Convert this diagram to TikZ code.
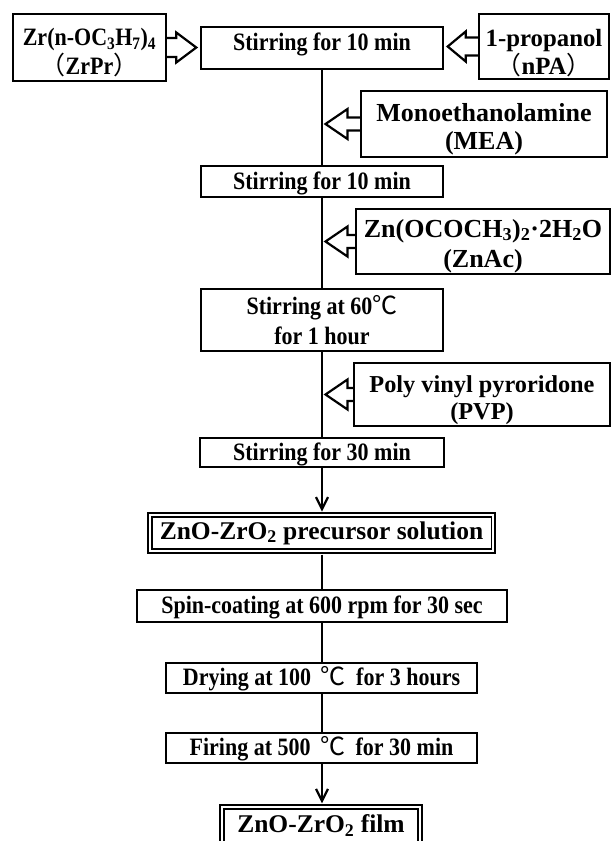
\documentclass[tikz,border=0pt]{standalone}
\usepackage{fontspec}
\setmainfont{Liberation Serif}
\newfontfamily\condfont[FakeStretch=0.88]{Liberation Serif}
\newfontfamily\cjk{Noto Sans CJK SC}
\usetikzlibrary{calc,arrows.meta}
\newcommand\degc{{\cjk\mdseries ℃}}
\newcommand\lpar{{\cjk\mdseries （}}
\newcommand\rpar{{\cjk\mdseries ）}}
\newcommand\blkR[4]{% #1 source point, #2 tip point, #3 shaft half height, #4 head length
  \draw[blk] ($(#1 |- #2)+(0,-#3)$) -- ($(#2)+(-#4,-#3)$) -- ($(#2)+(-#4,-15)$) -- (#2)
    -- ($(#2)+(-#4,15)$) -- ($(#2)+(-#4,#3)$) -- ($(#1 |- #2)+(0,#3)$);}
\newcommand\blkL[4]{% #1 source point, #2 tip point, #3 shaft half height, #4 head length
  \draw[blk] ($(#1 |- #2)+(0,-#3)$) -- ($(#2)+(#4,-#3)$) -- ($(#2)+(#4,-15)$) -- (#2)
    -- ($(#2)+(#4,15)$) -- ($(#2)+(#4,#3)$) -- ($(#1 |- #2)+(0,#3)$);}
\begin{document}
\begin{tikzpicture}[x=1pt,y=-1pt,
  every node/.style={inner sep=0pt},
  fa/.style={font=\condfont\bfseries\fontsize{25pt}{30pt}\selectfont},
  fb/.style={font=\bfseries\fontsize{25.5pt}{29pt}\selectfont},
  box/.style={draw, line width=2.4pt, align=center},
  one/.style={text height=16.5pt, text depth=1pt},
  dbox/.style={draw, line width=1.8pt, double, double distance=2pt, align=center,
    text height=17pt, text depth=5pt},
  flow/.style={line width=2.2pt},
  flowarr/.style={-{Straight Barb[length=12pt,width=12pt]}},
  blk/.style={line width=2.2pt, line join=miter}]
\clip (0,0) rectangle (612,841);

% main column
\node[box, fa, minimum width=242pt, minimum height=42pt, text height=16.5pt, text depth=12.5pt]
  (s1) at (322,48) {Stirring for 10 min};
\node[box, fa, one, minimum width=242pt, minimum height=31pt] (s2) at (322,181.5) {Stirring for 10 min};
\node[box, fa, minimum width=242pt, minimum height=62pt] (s3) at (322,320)
  {Stirring at 60\degc\\for 1 hour};
\node[box, fa, one, minimum width=244pt, minimum height=29pt] (s4) at (322,452.5) {Stirring for 30 min};
\node[dbox, fb, minimum width=343.6pt, minimum height=35.6pt] (prec) at (321.5,533)
  {ZnO-ZrO\textsubscript{2} precursor solution};
\node[box, fa, one, minimum width=370pt, minimum height=32pt] (spin) at (322,606)
  {Spin-coating at 600 rpm for 30 sec};
\node[box, fa, one, minimum width=311pt, minimum height=30pt] (dry) at (321.5,678)
  {Drying at 100\hspace{4pt} \degc\hspace{5pt} for 3 hours};
\node[box, fa, one, minimum width=311pt, minimum height=30pt] (fire) at (321.5,748)
  {Firing at 500\hspace{4pt} \degc\hspace{5pt} for 30 min};
\node[dbox, fb, minimum width=197.6pt, minimum height=39pt, anchor=north] (film) at (321,806.2)
  {ZnO-ZrO\textsubscript{2} film};

% reagents
\node[box, font=\condfont\bfseries\fontsize{25pt}{29pt}\selectfont, minimum width=153pt, minimum height=67pt] (zr) at (89.5,47.5)
  {\rule{0pt}{28pt}Zr(n-OC\textsubscript{3}H\textsubscript{7})\textsubscript{4}\\\lpar ZrPr\rpar};
\node[box, font=\bfseries\fontsize{24.8pt}{28pt}\selectfont, minimum width=130pt, minimum height=65pt]
  (npa) at (544,46.5) {\rule{0pt}{30pt}1-propanol\\\lpar nPA\rpar};
\node[box, font=\bfseries\fontsize{26pt}{28pt}\selectfont, minimum width=246pt, minimum height=66pt]
  (mea) at (484,124) {\rule{0pt}{28pt}Monoethanolamine\\(MEA)};
\node[box, font=\bfseries\fontsize{26pt}{30pt}\selectfont, minimum width=254pt, minimum height=65pt]
  (zn) at (483,241.5) {\rule{0pt}{27pt}Zn(OCOCH\textsubscript{3})\textsubscript{2}·2H\textsubscript{2}O\\(ZnAc)};
\node[box, font=\bfseries\fontsize{24.3pt}{27pt}\selectfont, minimum width=256pt, minimum height=63pt]
  (pvp) at (482,394.5) {\rule{0pt}{28pt}Poly vinyl pyroridone\\(PVP)};

% tips of the block arrows
\coordinate (tz) at ($(s1.west |- zr.east)+(-3.5,0)$);
\coordinate (tn) at ($(s1.east |- npa.west)+(3.5,0)$);
\coordinate (tm) at ($(s1.south |- mea.west)+(3.5,0)$);
\coordinate (tzn) at ($(s1.south |- zn.west)+(3.5,0)$);
\coordinate (tp) at ($(s1.south |- pvp.west)+(3.5,0)$);

\blkR{zr.east}{tz}{9.5}{20}
\blkL{npa.west}{tn}{9}{18}
\blkL{mea.west}{tm}{6.5}{22}
\blkL{zn.west}{tzn}{6.5}{22}
\blkL{pvp.west}{tp}{6.5}{22}

% main flow
\draw[flow] (s1.south) -- (s2.north);
\draw[flow] (s2.south) -- (s3.north);
\draw[flow] (s3.south) -- (s4.north);
\draw[flow, flowarr] (s4.south) -- ([yshift=2.8pt]s4.south |- prec.north);
\draw[flow] ([yshift=-2.8pt]s4.south |- prec.south) -- (spin.north);
\draw[flow] (spin.south) -- (s4.south |- dry.north);
\draw[flow] (s4.south |- dry.south) -- (s4.south |- fire.north);
\draw[flow, flowarr] (s4.south |- fire.south) -- ([yshift=2.8pt]s4.south |- film.north);
\end{tikzpicture}
\end{document}
